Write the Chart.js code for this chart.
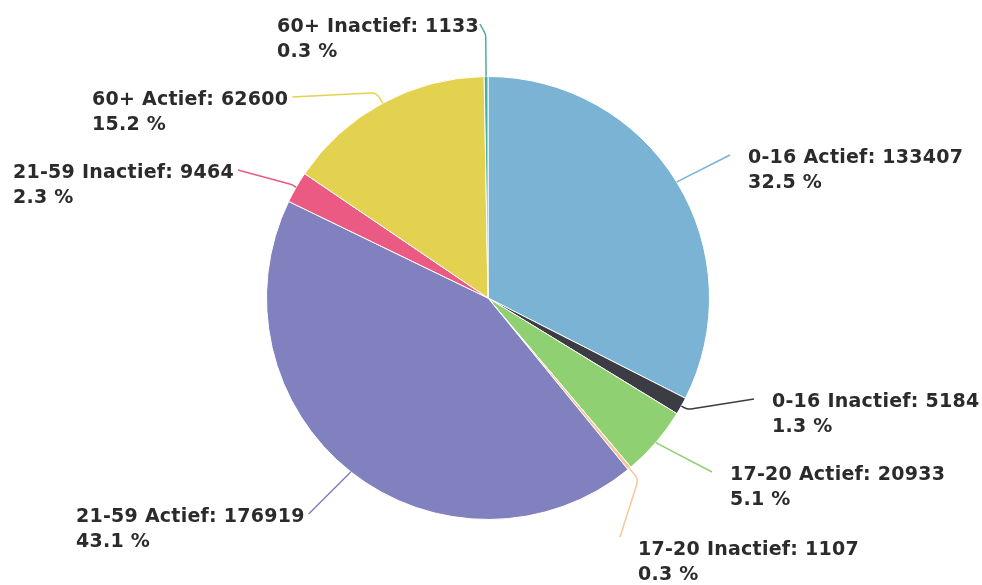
<!DOCTYPE html>
<html>
<head>
<meta charset="utf-8">
<script src="https://cdn.jsdelivr.net/npm/chart.js@4"></script>
<style>
  html, body { margin: 0; padding: 0; background: #fff; }
</style>
</head>
<body>
<canvas id="pie" width="982" height="585"></canvas>
<script>
// data
const labels = ['0-16 Actief', '0-16 Inactief', '17-20 Actief', '17-20 Inactief', '21-59 Actief', '21-59 Inactief', '60+ Actief', '60+ Inactief']
const values = [133407, 5184, 20933, 1107, 176919, 9464, 62600, 1133]
const colors = ['#7ab3d4', '#3c3c44', '#8fd072', '#f7c79c', '#8281bf', '#ea5a82', '#e3d250', '#48aea4']

// where each data label sits (left x, first line middle y), and how the connector bends
const labelPos = [
  { x: 748, y: 158, side: 'right', ext: 2 },
  { x: 772, y: 402, side: 'right', ext: 7 },
  { x: 730, y: 475, side: 'right', ext: 2 },
  { x: 638, y: 550, side: 'right', ext: 14, dy: -10 },
  { x: 76,  y: 517, side: 'left',  ext: 2 },
  { x: 13,  y: 173, side: 'left',  ext: 6 },
  { x: 92,  y: 100, side: 'left',  ext: 12 },
  { x: 277, y: 27,  side: 'left',  ext: 42, gap: 1 }
]

const total = values.reduce((a, b) => a + b, 0)
const FONT = 'bold 19px "DejaVu Sans"'

const pieLabels = {
  id: 'pieLabels',
  afterDatasetsDraw(chart) {
    const ctx = chart.ctx
    const meta = chart.getDatasetMeta(0)
    ctx.save()
    ctx.font = FONT
    ctx.letterSpacing = '0.25px'
    ctx.textBaseline = 'middle'
    meta.data.forEach(function(arc, i) {
      const p = arc.getProps(['x', 'y', 'startAngle', 'endAngle', 'outerRadius'], true)
      const mid = (p.startAngle + p.endAngle) / 2
      const r = p.outerRadius
      const x0 = p.x + Math.cos(mid) * r
      const y0 = p.y + Math.sin(mid) * r
      const x1 = p.x + Math.cos(mid) * (r + labelPos[i].ext)
      const y1 = p.y + Math.sin(mid) * (r + labelPos[i].ext)

      const line1 = labels[i] + ': ' + values[i]
      const line2 = (values[i] / total * 100).toFixed(1) + ' %'
      const lp = labelPos[i]
      const w = ctx.measureText(line1).width
      let ax, ay
      if (lp.side === 'right') {
        ax = lp.x - 18
      } else {
        ax = lp.x + w + (lp.gap !== undefined ? lp.gap : 4)
      }
      ay = lp.y - 3 + (lp.dy || 0)

      ctx.strokeStyle = colors[i]
      ctx.lineWidth = 1.5
      ctx.beginPath()
      ctx.moveTo(ax, ay)
      ctx.arcTo(x1, y1, x0, y0, 10)
      ctx.lineTo(x0, y0)
      ctx.stroke()

      ctx.fillStyle = '#2b2b2b'
      ctx.fillText(line1, lp.x, lp.y)
      ctx.fillText(line2, lp.x, lp.y + 25)
    })
    ctx.restore()
  }
}

new Chart(document.getElementById('pie'), {
  type: 'pie',
  data: {
    labels: labels,
    datasets: [{
      data: values,
      backgroundColor: colors,
      borderColor: '#ffffff',
      borderWidth: 1
    }]
  },
  options: {
    responsive: false,
    animation: false,
    layout: {
      padding: { top: 76, bottom: 65, left: 266, right: 272 }
    },
    plugins: {
      legend: { display: false },
      tooltip: { enabled: false }
    }
  },
  plugins: [pieLabels]
})
</script>
</body>
</html>
